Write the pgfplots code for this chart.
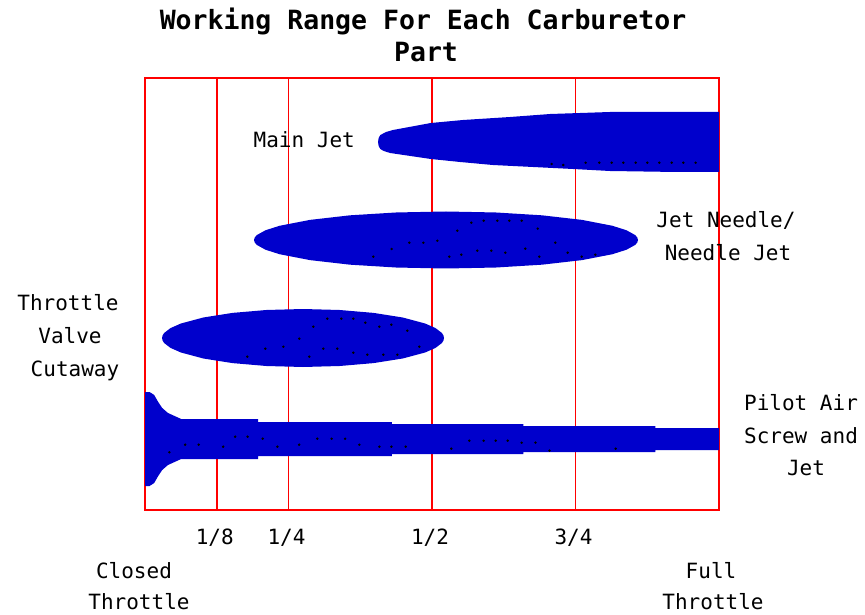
\documentclass[border=0pt]{standalone}
\usepackage{fontspec}
\setmainfont{DejaVu Sans Mono}
\usepackage{pgfplots}
\pgfplotsset{compat=1.18}
\definecolor{partblue}{RGB}{0,0,204}
\definecolor{gridred}{RGB}{255,0,0}
\begin{document}
\begin{tikzpicture}[x=1pt,y=1pt]
\useasboundingbox (0,0) rectangle (865,614);
\begin{axis}[
  at={(145pt,104pt)}, anchor=south west,
  width=574pt, height=432pt, scale only axis,
  xmin=0, xmax=1, ymin=0, ymax=432,
  axis line style={gridred, line width=1.7pt},
  xtick={0.125,0.25,0.5,0.75},
  xticklabels={1/8,1/4,1/2,3/4},
  ytick=\empty,
  major tick length=0pt,
  xmajorgrids,
  grid style={gridred, line width=1.7pt},
  xticklabel style={font=\fontsize{21}{25}\selectfont, text height=15pt, text depth=0pt, inner sep=0pt, anchor=center, yshift=-27pt, xshift=-2pt},
]
% Pilot Air Screw and Jet
\addplot[fill=partblue, draw=none] coordinates {
 (0,24) (0,118) (0.008,118) (0.016,115) (0.023,108) (0.030,102) (0.040,97) (0.063,91)
 (0.197,91) (0.197,88) (0.430,88) (0.430,86) (0.659,86) (0.659,84) (0.889,84) (0.889,82) (1,82)
 (1,60) (0.889,60) (0.889,58) (0.659,58) (0.659,56) (0.430,56) (0.430,54) (0.197,54) (0.197,51)
 (0.063,51) (0.040,45) (0.030,40) (0.023,34) (0.016,27) (0.008,24)
} -- cycle;
% Throttle Valve Cutaway
\addplot[fill=partblue, draw=none] coordinates {
 (0.5209,172) (0.5200,174.53) (0.5172,177.04) (0.5061,181.92) (0.4880,186.5) (0.4490,192.5)
 (0.3981,197.11) (0.3389,200.01) (0.2753,201) (0.2117,200.01) (0.1525,197.11) (0.1016,192.5)
 (0.0626,186.5) (0.0445,181.92) (0.0334,177.04) (0.0306,174.53) (0.0297,172) (0.0306,169.47)
 (0.0334,166.96) (0.0445,162.08) (0.0626,157.5) (0.1016,151.5) (0.1525,146.89) (0.2117,143.99)
 (0.2753,143) (0.3389,143.99) (0.3981,146.89) (0.4490,151.5) (0.4880,157.5) (0.5061,162.08)
 (0.5172,166.96) (0.5200,169.47)
} -- cycle;
% Jet Needle / Needle Jet
\addplot[fill=partblue, draw=none] coordinates {
 (0.8589,270) (0.8576,272.49) (0.8539,274.96) (0.8388,279.75) (0.8141,284.25) (0.7609,290.15)
 (0.6917,294.68) (0.6110,297.53) (0.5244,298.5) (0.4378,297.53) (0.3571,294.68) (0.2879,290.15)
 (0.2347,284.25) (0.2100,279.75) (0.1949,274.96) (0.1912,272.49) (0.1899,270) (0.1912,267.51)
 (0.1949,265.04) (0.2100,260.25) (0.2347,255.75) (0.2879,249.85) (0.3571,245.32) (0.4378,242.47)
 (0.5244,241.5) (0.6110,242.47) (0.6917,245.32) (0.7609,249.85) (0.8141,255.75) (0.8388,260.25)
 (0.8539,265.04) (0.8576,267.51)
} -- cycle;
% Main Jet
\addplot[fill=partblue, draw=none] coordinates {
 (0.406,368) (0.407,372) (0.410,375) (0.420,378) (0.432,380) (0.498,387) (0.554,390) (0.636,393) (0.706,396)
 (0.810,398) (1,398) (1,338) (0.927,338) (0.810,339) (0.746,341) (0.676,343) (0.606,345)
 (0.549,348) (0.498,351) (0.427,357) (0.416,359) (0.410,361) (0.407,364)
} -- cycle;
% small black dots
\addplot[only marks, mark=*, mark size=1pt, black] coordinates {
 (0.7085,346) (0.7287,345) (0.7677,347.3) (0.7914,347.3) (0.8130,347.3) (0.8333,347.3)
 (0.8549,347.3) (0.8751,347.3) (0.8960,347.3) (0.9176,347.3) (0.9378,347.3) (0.9592,347.3)
 (0.3977,253.3) (0.4298,261) (0.4605,267.3) (0.4849,267.3) (0.5093,269.3) (0.5441,279.3)
 (0.5685,287.3) (0.5901,289.3) (0.6138,289.3) (0.6347,289.3) (0.6563,289.3) (0.6842,281.3)
 (0.7148,267.3) (0.7364,257.3) (0.7608,253.3) (0.7845,255.3) (0.5301,253.3) (0.5510,255.3)
 (0.5789,259.3) (0.6033,259.3) (0.6277,257.3) (0.6625,261.3) (0.6869,253.3)
 (0.1782,153.3) (0.2096,161.3) (0.2410,163.3) (0.2688,171.3) (0.2932,183.3) (0.3176,191.3)
 (0.3420,191.3) (0.3629,191.3) (0.3838,187.3) (0.4082,183.3) (0.4291,185.3) (0.4570,179.3)
 (0.4779,163.3) (0.4396,155.3) (0.4152,155.3) (0.3873,155.3) (0.3629,157.3) (0.3350,161.3)
 (0.3106,161.3) (0.2862,153.3)
 (0.0425,57.7) (0.0700,65.3) (0.0936,65.3) (0.1362,63.3) (0.1571,73.3) (0.1787,73.3)
 (0.2051,71.3) (0.2307,63.3) (0.2686,65.3) (0.3002,71.3) (0.3251,71.3) (0.3486,71.3)
 (0.3735,65.3) (0.4084,63.3) (0.4293,63.3) (0.4542,63.3) (0.5336,61.3) (0.5650,69.3)
 (0.5899,69.3) (0.6110,69.3) (0.6319,69.3) (0.6561,67.3) (0.6803,67.3) (0.7047,59.3) (0.8200,61.3)
};
\end{axis}
\tikzset{lbl/.style={font=\fontsize{21}{25}\selectfont, text height=15pt, text depth=0pt, inner sep=0pt}}
\node[font=\bfseries\fontsize{26.5}{30}\selectfont, text height=19pt, text depth=0pt, inner sep=0pt] at (423,594) {Working Range For Each Carburetor};
\node[font=\bfseries\fontsize{26.5}{30}\selectfont, text height=19pt, text depth=0pt, inner sep=0pt] at (426,562) {Part};
\node[lbl, anchor=east] at (355,474) {Main Jet};
\node[lbl] at (726,394) {Jet Needle/};
\node[lbl] at (728,361) {Needle Jet};
\node[lbl] at (68,311) {Throttle};
\node[lbl] at (70,278) {Valve};
\node[lbl] at (75,245) {Cutaway};
\node[lbl] at (801,211) {Pilot Air};
\node[lbl] at (801,178) {Screw and};
\node[lbl] at (806,146) {Jet};
\node[lbl] at (134,43) {Closed};
\node[lbl] at (139,12) {Throttle};
\node[lbl] at (711,43) {Full};
\node[lbl] at (713,12) {Throttle};
\end{tikzpicture}
\end{document}
